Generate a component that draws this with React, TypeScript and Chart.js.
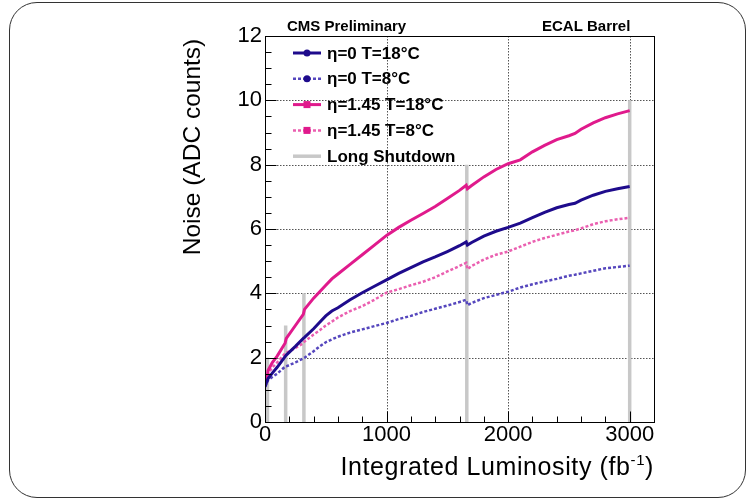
import React, { useEffect, useRef } from 'react';
import { Chart, registerables } from 'chart.js';

Chart.register(...registerables);

// ---------- data ----------
const lumi = [0, 15, 25, 60, 100, 165, 175, 250, 315, 325, 400, 450, 500, 550, 600, 700, 800, 900, 1000, 1100, 1200, 1300, 1400, 1500, 1600, 1655, 1665, 1700, 1800, 1900, 2000, 2100, 2200, 2300, 2400, 2500, 2550, 2600, 2700, 2800, 2900, 3000];
const noiseEta0T18 = [1.1, 1.25, 1.35, 1.52, 1.7, 2.03, 2.08, 2.35, 2.6, 2.63, 2.9, 3.1, 3.3, 3.45, 3.55, 3.8, 4.02, 4.22, 4.42, 4.62, 4.8, 4.98, 5.13, 5.3, 5.48, 5.6, 5.5, 5.58, 5.78, 5.93, 6.05, 6.18, 6.35, 6.52, 6.66, 6.76, 6.8, 6.9, 7.05, 7.17, 7.25, 7.32];
const noiseEta0T8 = [1.1, 1.2, 1.3, 1.4, 1.5, 1.72, 1.73, 1.85, 1.98, 2.0, 2.2, 2.35, 2.48, 2.57, 2.65, 2.78, 2.88, 2.98, 3.08, 3.2, 3.3, 3.42, 3.52, 3.62, 3.73, 3.8, 3.63, 3.7, 3.85, 3.95, 4.05, 4.18, 4.28, 4.37, 4.45, 4.55, 4.58, 4.62, 4.7, 4.78, 4.82, 4.86];
const noiseEta145T18 = [1.15, 1.3, 1.6, 1.85, 2.05, 2.45, 2.6, 3.0, 3.35, 3.5, 3.85, 4.05, 4.25, 4.45, 4.6, 4.9, 5.2, 5.5, 5.8, 6.05, 6.27, 6.48, 6.7, 6.95, 7.2, 7.36, 7.25, 7.35, 7.62, 7.85, 8.03, 8.15, 8.4, 8.6, 8.78, 8.9, 8.97, 9.1, 9.3, 9.46, 9.58, 9.68];
const noiseEta145T8 = [1.15, 1.3, 1.5, 1.7, 1.85, 2.13, 2.15, 2.3, 2.45, 2.5, 2.72, 2.85, 3.0, 3.12, 3.25, 3.45, 3.6, 3.8, 4.02, 4.13, 4.25, 4.36, 4.5, 4.68, 4.85, 4.95, 4.75, 4.85, 5.05, 5.2, 5.3, 5.45, 5.6, 5.72, 5.82, 5.92, 5.96, 6.02, 6.15, 6.24, 6.3, 6.35];
const shutdownLumi = [20, 170, 320, 1660, 3000];
const shutdownTop = [2, 3, 4, 8, 10];

const seriesLabels = ['η=0 T=18°C', 'η=0 T=8°C', 'η=1.45 T=18°C', 'η=1.45 T=8°C', 'Long Shutdown'];
const xTickValues = [0, 1000, 2000, 3000];
const yTickValues = [0, 2, 4, 6, 8, 10, 12];
const xGridValues = [1000, 2000, 3000];
const yGridValues = [2, 4, 6, 8, 10];
const xMinorStep = 200;
const xMajorStep = 1000;
const yMinorStep = 0.5;
const yMajorStep = 2;

const FONT = "'Liberation Sans', Arial, Helvetica, sans-serif";

const NAVY = '#1e0b8c';
const NAVY_LIGHT = '#5546bd';
const MAGENTA = '#e01a8c';
const MAGENTA_LIGHT = '#ea5fb0';
const GRAY = '#c8c8c8';

function seg(ctx: CanvasRenderingContext2D, x1: number, y1: number, x2: number, y2: number) {
  ctx.beginPath();
  ctx.moveTo(x1, y1);
  ctx.lineTo(x2, y2);
  ctx.stroke();
}

const rootPlugin = {
  id: 'rootStyle',
  beforeDatasetsDraw(chart: any) {
    const { ctx, chartArea: a } = chart;
    const xs = chart.scales.x;
    const ys = chart.scales.y;
    ctx.save();
    ctx.strokeStyle = '#555';
    ctx.lineWidth = 1;
    ctx.setLineDash([1.5, 1.5]);
    xGridValues.forEach((v) => {
      const p = Math.round(xs.getPixelForValue(v)) + 0.5;
      seg(ctx, p, a.top, p, a.bottom);
    });
    yGridValues.forEach((v) => {
      const p = Math.round(ys.getPixelForValue(v)) + 0.5;
      seg(ctx, a.left, p, a.right, p);
    });
    ctx.restore();
  },
  afterDatasetsDraw(chart: any) {
    const { ctx, chartArea: a } = chart;
    const xs = chart.scales.x;
    const ys = chart.scales.y;
    ctx.save();
    ctx.strokeStyle = '#000';
    ctx.lineWidth = 1;
    ctx.setLineDash([]);
    const L = Math.round(a.left) + 0.5;
    const R = Math.round(a.right) + 0.5;
    const T = Math.round(a.top) + 0.5;
    const B = Math.round(a.bottom) + 0.5;
    ctx.strokeRect(L, T, R - L, B - T);
    for (let i = 0; i * xMinorStep <= xs.max; i++) {
      const v = i * xMinorStep;
      const len = v % xMajorStep === 0 ? 11 : 6;
      const p = Math.round(xs.getPixelForValue(v)) + 0.5;
      seg(ctx, p, B, p, B - len);
    }
    for (let i = 0; i * yMinorStep <= ys.max; i++) {
      const v = i * yMinorStep;
      const len = v % yMajorStep === 0 ? 11 : 6;
      const p = Math.round(ys.getPixelForValue(v)) + 0.5;
      seg(ctx, L, p, L + len, p);
    }
    ctx.restore();
  },
  afterDraw(chart: any) {
    const { ctx } = chart;
    ctx.save();
    ctx.fillStyle = '#000';
    // header texts
    ctx.font = `bold 15px ${FONT}`;
    ctx.textBaseline = 'middle';
    ctx.textAlign = 'left';
    ctx.fillText('CMS Preliminary', 287, 27);
    ctx.fillText('ECAL Barrel', 542, 27);

    // y title
    ctx.save();
    ctx.translate(200, 147);
    ctx.rotate(-Math.PI / 2);
    ctx.font = `24.5px ${FONT}`;
    ctx.textAlign = 'center';
    ctx.textBaseline = 'alphabetic';
    ctx.fillText('Noise (ADC counts)', 0, 0);
    ctx.restore();

    // x title with superscript
    const main = 'Integrated Luminosity (fb';
    const sup = '-1';
    const close = ')';
    ctx.textBaseline = 'alphabetic';
    ctx.textAlign = 'left';
    (ctx as any).letterSpacing = '0.6px';
    ctx.font = `25px ${FONT}`;
    const wMain = ctx.measureText(main).width;
    const wClose = ctx.measureText(close).width;
    ctx.font = `15px ${FONT}`;
    const wSup = ctx.measureText(sup).width;
    const right = 654;
    const base = 475;
    let x0 = right - wMain - wSup - wClose;
    ctx.font = `25px ${FONT}`;
    ctx.fillText(main, x0, base);
    x0 += wMain;
    ctx.font = `15px ${FONT}`;
    ctx.fillText(sup, x0, base - 10);
    x0 += wSup;
    ctx.font = `25px ${FONT}`;
    ctx.fillText(close, x0, base);
    (ctx as any).letterSpacing = '0px';

    // legend
    chart.data.datasets.forEach((ds: any, i: number) => {
      const yRow = 53 + i * 25.8;
      ctx.strokeStyle = ds.borderColor;
      ctx.lineWidth = ds.borderWidth;
      ctx.setLineDash(ds.borderDash || []);
      seg(ctx, 293, yRow, 321, yRow);
      ctx.setLineDash([]);
      ctx.fillStyle = ds.markerColor || ds.borderColor;
      if (ds.markerShape === 'circle') {
        ctx.beginPath();
        ctx.arc(307, yRow, 3.5, 0, Math.PI * 2);
        ctx.fill();
      } else if (ds.markerShape === 'rect') {
        ctx.fillRect(303.5, yRow - 3.5, 7, 7);
      }
      ctx.fillStyle = '#000';
      ctx.font = `bold 17px ${FONT}`;
      ctx.textBaseline = 'middle';
      ctx.textAlign = 'left';
      ctx.fillText(ds.label, 327, yRow + 1);
    });
    ctx.restore();
  },
};

function toPoints(values: number[]) {
  return lumi.map((x, i) => ({ x, y: values[i] }));
}

function shutdownPoints() {
  const pts: { x: number; y: number | null }[] = [];
  shutdownLumi.forEach((x, i) => {
    pts.push({ x, y: 0 }, { x, y: shutdownTop[i] }, { x, y: null });
  });
  return pts;
}

export default function App() {
  const ref = useRef<HTMLCanvasElement | null>(null);

  useEffect(() => {
    if (!ref.current) return;
    const chart = new Chart(ref.current, {
      type: 'line',
      data: {
        datasets: [
          {
            label: seriesLabels[0],
            data: toPoints(noiseEta0T18),
            borderColor: NAVY,
            borderWidth: 3,
            markerShape: 'circle',
            markerColor: NAVY,
          } as any,
          {
            label: seriesLabels[1],
            data: toPoints(noiseEta0T8),
            borderColor: NAVY_LIGHT,
            borderWidth: 2.5,
            borderDash: [3, 2],
            markerShape: 'circle',
            markerColor: NAVY,
          } as any,
          {
            label: seriesLabels[2],
            data: toPoints(noiseEta145T18),
            borderColor: MAGENTA,
            borderWidth: 3,
            markerShape: 'rect',
            markerColor: MAGENTA,
          } as any,
          {
            label: seriesLabels[3],
            data: toPoints(noiseEta145T8),
            borderColor: MAGENTA_LIGHT,
            borderWidth: 2.5,
            borderDash: [3, 2],
            markerShape: 'rect',
            markerColor: MAGENTA,
          } as any,
          {
            label: seriesLabels[4],
            data: shutdownPoints(),
            borderColor: GRAY,
            borderWidth: 3.5,
            spanGaps: false,
          } as any,
        ],
      },
      options: {
        animation: false,
        responsive: false,
        layout: { padding: { left: 0, top: 36, right: 98, bottom: 0 } },
        elements: { point: { radius: 0, hoverRadius: 0 }, line: { tension: 0 } },
        plugins: {
          legend: { display: false },
          tooltip: { enabled: false },
          title: { display: false },
        },
        scales: {
          x: {
            type: 'linear',
            min: 0,
            max: 3200,
            grid: { display: false, drawTicks: false },
            border: { display: false },
            afterBuildTicks: (s: any) => {
              s.ticks = xTickValues.map((value) => ({ value }));
            },
            afterFit: (s: any) => {
              s.height = 81;
            },
            ticks: {
              color: '#000',
              font: { family: FONT, size: 22 },
              padding: 0,
              maxRotation: 0,
              autoSkip: false,
              callback: (v: any) => String(v),
            },
          },
          y: {
            type: 'linear',
            min: 0,
            max: 12,
            grid: { display: false, drawTicks: false },
            border: { display: false },
            afterBuildTicks: (s: any) => {
              s.ticks = yTickValues.map((value) => ({ value }));
            },
            afterFit: (s: any) => {
              s.width = 265;
            },
            ticks: {
              color: '#000',
              font: { family: FONT, size: 22 },
              padding: 3,
              autoSkip: false,
              callback: (v: any) => String(v),
            },
          },
        },
      } as any,
      plugins: [rootPlugin],
    });
    return () => chart.destroy();
  }, []);

  return (
    <div style={{ position: 'fixed', left: 0, top: 0, width: 752, height: 503, background: '#fff' }}>
      <div
        style={{
          position: 'absolute',
          left: 9,
          top: 2,
          width: 737,
          height: 496,
          border: '1px solid #333',
          borderRadius: 28,
          boxSizing: 'border-box',
        }}
      />
      <canvas ref={ref} width={752} height={503} style={{ position: 'absolute', left: 0, top: 0, width: 752, height: 503 }} />
    </div>
  );
}
